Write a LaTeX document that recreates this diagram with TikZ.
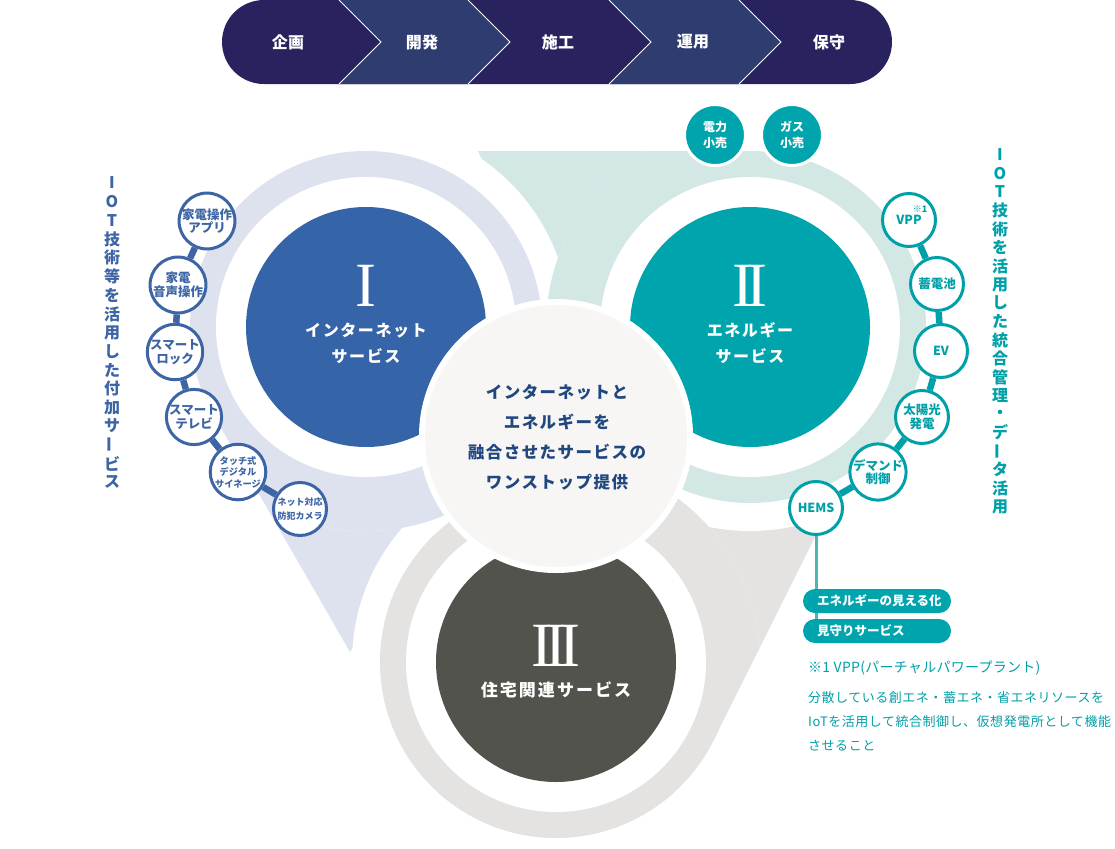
\documentclass[tikz,border=0pt]{standalone}
\usepackage{fontspec}
\setmainfont{Noto Sans CJK JP}
\newfontfamily\numfont{Liberation Serif}
\definecolor{navyA}{HTML}{28225E}
\definecolor{navyB}{HTML}{2E3C70}
\definecolor{lavL}{HTML}{DEE2EE}
\definecolor{blueC}{HTML}{3564A8}
\definecolor{tealL}{HTML}{D3E7E5}
\definecolor{tealC}{HTML}{00A4AC}
\definecolor{greyL}{HTML}{E4E3E1}
\definecolor{greyC}{HTML}{53534D}
\definecolor{centerF}{HTML}{F7F6F5}
\definecolor{centerT}{HTML}{21477F}
\definecolor{itemB}{HTML}{3D65A5}
\definecolor{itemT}{HTML}{00A0A8}
\definecolor{lineT}{HTML}{4DB5B2}
\newcommand\vbar{\rotatebox[origin=c]{90}{ー}}
\tikzset{
  barlab/.style={text=white, inner sep=0pt, font=\fontsize{16bp}{18bp}\selectfont\bfseries\addfontfeatures{LetterSpace=3}},
  biglab/.style={text=white, align=center, inner sep=0pt, font=\fontsize{16bp}{26bp}\selectfont\bfseries\addfontfeatures{LetterSpace=10}},
  numeral/.style={text=white, inner sep=0pt, font=\numfont\fontsize{63bp}{63bp}\selectfont},
  ctext/.style={text=centerT, align=center, inner sep=0pt, font=\fontsize{16.5bp}{30bp}\selectfont\bfseries\addfontfeatures{LetterSpace=9}},
  itembase/.style={circle, fill=white, line width=3bp, minimum size=53bp, inner sep=0pt, align=center, font=\fontsize{12.5bp}{13.5bp}\selectfont\bfseries},
  litem/.style={itembase, draw=itemB, text=itemB},
  ritem/.style={itembase, draw=itemT, text=itemT},
  smalltxt/.style={font=\fontsize{9.2bp}{11.5bp}\selectfont\bfseries},
  smalltxtb/.style={font=\fontsize{9bp}{14bp}\selectfont\bfseries},
  lconn/.style={draw=itemB, line width=6.5bp},
  rconn/.style={draw=itemT, line width=6.5bp},
  retail/.style={circle, fill=tealC, draw=white, line width=3bp, minimum size=61bp, inner sep=0pt, text=white, align=center, font=\fontsize{12bp}{15.5bp}\selectfont\bfseries},
  pill/.style={fill=tealC, rounded corners=12bp, minimum height=24bp, text width=120bp, inner xsep=14bp, inner ysep=0pt, align=left, text=white, font=\fontsize{12.5bp}{14bp}\selectfont\bfseries},
  vtl/.style={text=itemB, inner sep=0pt, font=\fontsize{16bp}{16bp}\selectfont\bfseries},
  vtr/.style={text=itemT, inner sep=0pt, font=\fontsize{16bp}{16bp}\selectfont\bfseries},
  notet/.style={text=itemT, anchor=west, inner sep=0pt, font=\fontsize{13bp}{15bp}\selectfont\addfontfeatures{LetterSpace=4}},
  notehead/.style={text=itemT, anchor=west, inner sep=0pt, font=\fontsize{14bp}{16bp}\selectfont\addfontfeatures{LetterSpace=2}},
  hemsline/.style={draw=lineT, line width=3bp}
}
\begin{document}
\begin{tikzpicture}[x=1bp,y=-1bp]
\useasboundingbox[fill=white] (0,0) rectangle (1115,849);
\coordinate (C1) at (366,327);
\coordinate (C2) at (750,327);
\coordinate (C3) at (556,662);
\coordinate (CC) at (556,436);

% ---- process bar
\fill[navyA, rounded corners=42bp] (222,0) rectangle (892,84);
\fill[navyB] (339,0) -- (468,0) -- (510,42) -- (468,84) -- (339,84) -- (381,42) -- cycle;
\fill[navyB] (609,0) -- (739,0) -- (781,42) -- (739,84) -- (609,84) -- (651,42) -- cycle;
\foreach \a/\b in {339/381,468/510,609/651,739/781}
  \draw[white, line width=0.8bp] (\a,0) -- (\b,42) -- (\a,84);
\node[barlab] (b1) at (288,42) {企画};
\node[barlab] (b2) at (422,42) {開発};
\node[barlab] (b3) at (558,42) {施工};
\node[barlab] (b4) at (693,42) {運用};
\node[barlab] (b5) at (829,42) {保守};

% ---- tails
\fill[lavL] (350,652) -- (213.4,414.8) -- (C1) -- (509,430) -- cycle;
\fill[tealL] (478,151) -- (750,151) -- (C2) -- (589.6,399.4) -- cycle;
\fill[greyL] (835,497) -- (713.5,740.5) -- (C3) -- (563,486) -- cycle;
% white borders
\foreach \c in {C1,C2,C3} \fill[white] (\c) circle[radius=204bp];
% restore own tails
\begin{scope}
  \clip (C1) circle[radius=204bp];
  \fill[lavL] (350,652) -- (213.4,414.8) -- (C1) -- (509,430) -- cycle;
\end{scope}
\begin{scope}
  \clip (C2) circle[radius=204bp];
  \fill[tealL] (478,151) -- (750,151) -- (C2) -- (589.6,399.4) -- cycle;
\end{scope}
\begin{scope}
  \clip (C3) circle[radius=204bp];
  \fill[greyL] (835,497) -- (713.5,740.5) -- (C3) -- (563,486) -- cycle;
\end{scope}
% bands and discs
\fill[lavL] (C1) circle[radius=176bp];
\fill[white] (C1) circle[radius=150bp];
\fill[blueC] (C1) circle[radius=120bp];
\fill[tealL] (C2) circle[radius=176bp];
\fill[white] (C2) circle[radius=150bp];
\fill[tealC] (C2) circle[radius=120bp];
\fill[greyL] (C3) circle[radius=176bp];
\fill[white] (C3) circle[radius=150bp];
\fill[greyC] (C3) circle[radius=120bp];
% centre
\fill[white] (CC) circle[radius=137bp];
\fill[centerF] (CC) circle[radius=131bp];

% ---- labels of big circles
\node[numeral] (n1) at (366,286) {I};
\node[biglab] (t1) at (366,343) {インターネット\\サービス};
\node[numeral] (n2) at (750,286) {I\kern-7bp I};
\node[biglab] (t2) at (750,343) {エネルギー\\サービス};
\node[numeral] (n3) at (556,646) {I\kern-7bp I\kern-7bp I};
\node[biglab, font=\fontsize{17bp}{20bp}\selectfont\bfseries\addfontfeatures{LetterSpace=12}] (t3) at (556,690) {住宅関連サービス};
\node[ctext] (ct) at (557,437) {インターネットと\\エネルギーを\\融合させたサービスの\\ワンストップ提供};

% ---- retail circles
\node[retail] (e1) at (715,135) {電力\\小売};
\node[retail] (e2) at (792,135) {ガス\\小売};

% ---- left items
\node[litem] (l1) at (207,221) {家電操作\\アプリ};
\node[litem] (l2) at (178,285) {家電\\音声操作};
\node[litem] (l3) at (175,352) {スマート\\ロック};
\node[litem] (l4) at (194,417) {スマート\\テレビ};
\node[litem, smalltxt] (l5) at (238,472) {タッチ式\\デジタル\\サイネージ};
\node[litem, smalltxtb] (l6) at (300,509) {ネット対応\\防犯カメラ};
\foreach \p/\q in {l1/l2,l2/l3,l3/l4,l4/l5,l5/l6} \draw[lconn] (\p) -- (\q);

% ---- right items
\coordinate (hemsend) at (816,631);
\draw[hemsline] (816,508) -- (hemsend);
\node[ritem] (r1) at (909,220) {\raisebox{-2bp}{VPP}};
\node[ritem] (r2) at (937,284) {蓄電池};
\node[ritem] (r3) at (941,351) {EV};
\node[ritem] (r4) at (922,417) {太陽光\\発電};
\node[ritem] (r5) at (878,472) {デマンド\\制御};
\node[ritem] (r6) at (816,508) {HEMS};
\foreach \p/\q in {r1/r2,r2/r3,r3/r4,r4/r5,r5/r6} \draw[rconn] (\p) -- (\q);
\node[text=itemT, inner sep=0pt, font=\fontsize{9bp}{10bp}\selectfont\bfseries] (vppn) at (920,209) {※1};

% ---- pills
\node[pill] (p1) at (877,601) {エネルギーの見える化};
\node[pill] (p2) at (877,631) {見守りサービス};

% ---- note
\node[notehead] (nh) at (808,668) {※1 VPP(パーチャルパワープラント)};
\node[notet] (nb1) at (808,698) {分散している創エネ・蓄エネ・省エネリソースを};
\node[notet] (nb2) at (808,722) {IoTを活用して統合制御し、仮想発電所として機能};
\node[notet] (nb3) at (808,746) {させること};

% ---- vertical texts
\foreach \ch [count=\i] in {I,O,T,技,術,等,を,活,用,し,た,付,加,サ,\vbar,ビ,ス}
  \node[vtl] (vl\i) at (112,{183+18.7*(\i-1)}) {\ch};
\foreach \ch [count=\i] in {I,O,T,技,術,を,活,用,し,た,統,合,管,理,・,デ,\vbar,タ,活,用}
  \node[vtr] (vr\i) at (1000,{155+18.5*(\i-1)}) {\ch};
\end{tikzpicture}
\end{document}
